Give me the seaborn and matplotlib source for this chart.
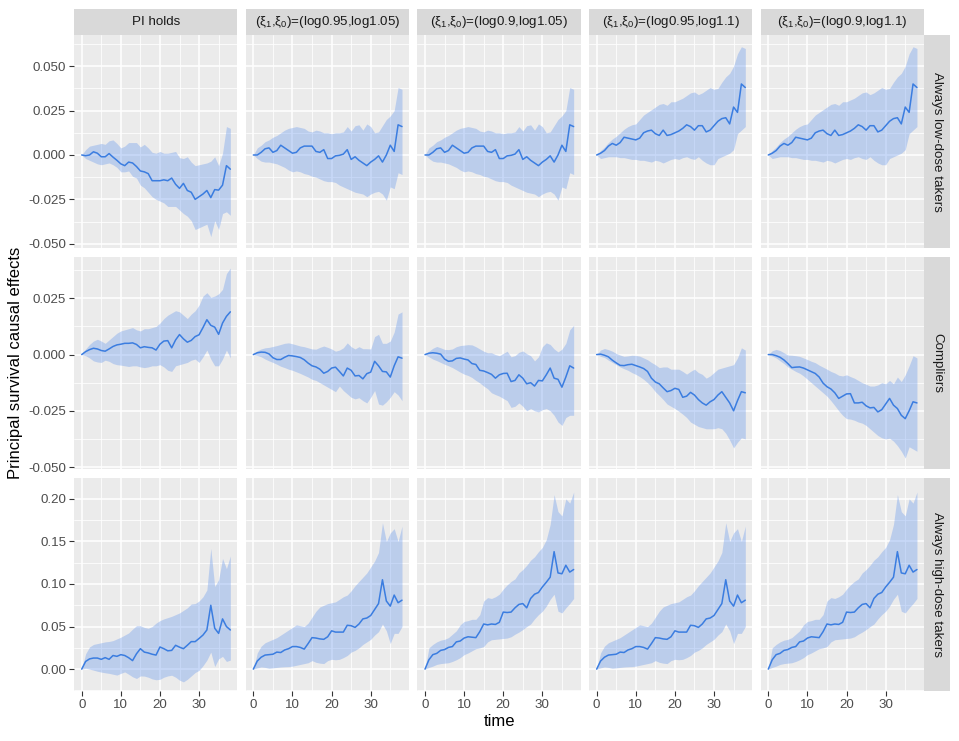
import pandas as pd
import matplotlib
matplotlib.use("Agg")
import matplotlib.pyplot as plt
import seaborn as sns
from matplotlib.ticker import MultipleLocator, FormatStrFormatter

# time grid (months)
time = list(range(39))

xi_pair = r"$(\mathrm{\xi}_{\mathrm{1}}{,}\mathrm{\xi}_{\mathrm{0}})$"
col_labels = ["PI holds",
              xi_pair + "=(log0.95,log1.05)",
              xi_pair + "=(log0.9,log1.05)",
              xi_pair + "=(log0.95,log1.1)",
              xi_pair + "=(log0.9,log1.1)"]
row_labels = ["Always low-dose takers", "Compliers", "Always high-dose takers"]

# ---- Always low-dose takers ----
low_pi_est = [0, -0.0004, 0, 0.0018, 0.001, -0.001, -0.001, 0.0008, -0.0012, -0.003, -0.005, -0.006, -0.004,
              -0.0045, -0.0065, -0.009, -0.0095, -0.0105, -0.0145, -0.0145, -0.0145, -0.014, -0.0145, -0.013,
              -0.0165, -0.0188, -0.016, -0.02, -0.021, -0.025, -0.0235, -0.022, -0.02, -0.024, -0.0195, -0.0198,
              -0.017, -0.006, -0.008]
low_pi_lo = [0, -0.002, -0.003, -0.004, -0.005, -0.0055, -0.005, -0.0045, -0.0055, -0.007, -0.0095, -0.0095, -0.009,
             -0.012, -0.013, -0.017, -0.0185, -0.021, -0.0235, -0.025, -0.026, -0.027, -0.029, -0.029, -0.029,
             -0.031, -0.033, -0.0345, -0.037, -0.042, -0.041, -0.04, -0.039, -0.046, -0.037, -0.042, -0.033,
             -0.032, -0.034]
low_pi_hi = [0, 0.003, 0.005, 0.0055, 0.006, 0.0065, 0.006, 0.008, 0.0085, 0.0065, 0.004, 0.005, 0.007, 0.007,
             0.007, 0.0045, 0.006, 0.004, 0.0015, 0.001, 0.002, 0.001, 0.001, 0.0015, 0.002, -0.0015, -0.002,
             -0.001, -0.004, -0.006, -0.0055, -0.005, -0.0045, -0.0035, -0.001, -0.006, 0.001, 0.016, 0.015]

low_s1_est = [0, 0, 0.0015, 0.0035, 0.004, 0.0015, 0.0025, 0.0055, 0.004, 0.0025, 0.001, 0.0015, 0.004, 0.005,
              0.005, 0.005, 0.002, 0.0015, 0.003, -0.002, -0.002, -0.0005, -0.0002, 0.0005, 0.003, -0.0025, -0.001,
              -0.003, -0.0045, -0.006, -0.004, -0.0025, -0.0005, -0.004, 0, 0.0055, 0.002, 0.017, 0.016]
low_s1_lo = [0, -0.002, -0.0035, -0.004, -0.004, -0.0045, -0.005, -0.006, -0.007, -0.0085, -0.0095, -0.009,
             -0.0095, -0.0105, -0.011, -0.012, -0.0125, -0.0135, -0.0145, -0.015, -0.015, -0.0155, -0.017, -0.018,
             -0.019, -0.02, -0.021, -0.0215, -0.022, -0.0235, -0.022, -0.021, -0.0205, -0.022, -0.0255, -0.018,
             -0.019, -0.01, -0.011]
low_s1_hi = [0, 0.004, 0.0055, 0.0075, 0.0085, 0.01, 0.011, 0.0125, 0.014, 0.015, 0.0155, 0.016, 0.0155, 0.015,
             0.0135, 0.013, 0.014, 0.0135, 0.0125, 0.0125, 0.012, 0.0125, 0.0125, 0.013, 0.016, 0.0135, 0.0165,
             0.017, 0.014, 0.0175, 0.016, 0.0125, 0.013, 0.0165, 0.02, 0.022, 0.025, 0.038, 0.037]

low_s2_est = [0, 0.001, 0.0025, 0.005, 0.0065, 0.0055, 0.007, 0.01, 0.0095, 0.009, 0.0085, 0.0095, 0.0125, 0.0135,
              0.014, 0.012, 0.011, 0.014, 0.011, 0.0115, 0.0125, 0.0135, 0.015, 0.017, 0.016, 0.014, 0.0165, 0.0165,
              0.013, 0.014, 0.0165, 0.019, 0.0205, 0.021, 0.0175, 0.027, 0.024, 0.04, 0.038]
low_s2_lo = [0, -0.002, -0.0015, -0.001, -0.001, -0.001, -0.0015, -0.0015, -0.002, -0.0025, -0.0025, -0.003, -0.003,
             -0.0035, -0.004, -0.003, -0.0035, -0.0045, -0.0035, -0.0025, -0.002, -0.0025, -0.0015, -0.001, -0.002,
             -0.0025, -0.001, -0.003, -0.0045, -0.0055, -0.0055, -0.002, -0.001, 0, 0.001, 0.003, 0.012, 0.014,
             0.016]
low_s2_hi = [0, 0.0025, 0.0045, 0.007, 0.009, 0.0105, 0.0125, 0.0145, 0.016, 0.017, 0.0175, 0.02, 0.0225, 0.024,
             0.0255, 0.027, 0.0285, 0.029, 0.028, 0.03, 0.03, 0.031, 0.032, 0.0335, 0.035, 0.0355, 0.034, 0.035,
             0.0365, 0.038, 0.037, 0.0375, 0.041, 0.044, 0.046, 0.05, 0.057, 0.061, 0.06]

# ---- Compliers ----
comp_pi_est = [0, 0.0013, 0.0022, 0.0028, 0.0025, 0.0018, 0.0015, 0.0025, 0.0036, 0.0043, 0.0046, 0.005, 0.005,
               0.0052, 0.0045, 0.003, 0.0035, 0.0032, 0.003, 0.002, 0.0046, 0.006, 0.0062, 0.003, 0.0065, 0.0089,
               0.007, 0.0055, 0.0063, 0.008, 0.0088, 0.012, 0.0155, 0.013, 0.0122, 0.009, 0.014, 0.017, 0.019]
comp_pi_lo = [0, -0.0005, -0.0015, -0.0028, -0.0033, -0.0035, -0.0025, -0.003, -0.004, -0.0045, -0.0047, -0.005,
              -0.0053, -0.005, -0.005, -0.0055, -0.0058, -0.0055, -0.005, -0.005, -0.0045, -0.0055, -0.007, -0.0075,
              -0.005, -0.0045, -0.004, -0.0035, -0.0025, -0.002, -0.0035, -0.001, 0.002, -0.002, -0.005, -0.005,
              -0.002, 0.002, -0.0015]
comp_pi_hi = [0, 0.0025, 0.0045, 0.006, 0.0068, 0.006, 0.005, 0.0065, 0.008, 0.0095, 0.0105, 0.011, 0.0115, 0.012,
              0.011, 0.0105, 0.0115, 0.0115, 0.012, 0.0125, 0.014, 0.016, 0.0175, 0.0185, 0.0195, 0.019, 0.0175,
              0.016, 0.018, 0.0195, 0.022, 0.026, 0.0275, 0.0255, 0.026, 0.027, 0.029, 0.036, 0.0385]

comp_s1_est = [0, 0.0008, 0.0011, 0.001, 0.0003, -0.0014, -0.0022, -0.0022, -0.0012, -0.0004, -0.0006, -0.0009,
               -0.0013, -0.0023, -0.0038, -0.005, -0.0055, -0.0065, -0.0083, -0.0075, -0.006, -0.0056, -0.0075,
               -0.0095, -0.006, -0.007, -0.0095, -0.0093, -0.0108, -0.0085, -0.0078, -0.003, -0.005, -0.0075,
               -0.0077, -0.01, -0.005, -0.001, -0.0016]
comp_s1_lo = [0, -0.0004, -0.001, -0.002, -0.0028, -0.0035, -0.0043, -0.0052, -0.0058, -0.0065, -0.007, -0.0077,
              -0.0084, -0.0092, -0.01, -0.011, -0.0115, -0.0125, -0.0135, -0.0145, -0.0155, -0.0165, -0.014, -0.016,
              -0.0175, -0.019, -0.0197, -0.0192, -0.0205, -0.0215, -0.019, -0.016, -0.022, -0.0225, -0.021, -0.019,
              -0.0165, -0.018, -0.0205]
comp_s1_hi = [0, 0.0017, 0.0025, 0.003, 0.0032, 0.0036, 0.004, 0.0045, 0.005, 0.0052, 0.0048, 0.0043, 0.0038,
              0.0035, 0.003, 0.0025, 0.0024, 0.0032, 0.0038, 0.0032, 0.0025, 0.0015, 0.002, 0.003, 0.0052, 0.0035,
              0.0025, 0.0035, 0.0026, 0.0026, 0.0025, 0.008, 0.009, 0.005, 0.005, 0.006, 0.01, 0.018, 0.019]

comp_s2_est = [0, 0.0006, 0.0008, 0.0006, 0.0002, -0.002, -0.003, -0.0028, -0.0017, -0.0015, -0.002, -0.0024, -0.004,
               -0.0044, -0.007, -0.0073, -0.008, -0.0088, -0.0105, -0.009, -0.0084, -0.0083, -0.012, -0.0115, -0.009,
               -0.0105, -0.013, -0.0125, -0.014, -0.0115, -0.0117, -0.009, -0.006, -0.0105, -0.011, -0.0145, -0.01,
               -0.005, -0.006]
comp_s2_lo = [0, -0.001, -0.002, -0.0027, -0.0035, -0.0043, -0.005, -0.0058, -0.0068, -0.0078, -0.0087, -0.0093,
              -0.0102, -0.0115, -0.0126, -0.014, -0.0152, -0.017, -0.0178, -0.0185, -0.0195, -0.0205, -0.0235,
              -0.023, -0.0215, -0.023, -0.025, -0.024, -0.025, -0.0255, -0.0245, -0.024, -0.025, -0.027, -0.03,
              -0.0315, -0.028, -0.027, -0.027]
comp_s2_hi = [0, 0.0015, 0.0028, 0.0036, 0.003, 0.0023, 0.0022, 0.0025, 0.0035, 0.004, 0.0042, 0.0044, 0.0043,
              0.0035, 0.0025, 0.0015, 0.0008, 0.0008, 0, -0.0005, 0.0005, 0.0015, -0.001, -0.0005, 0.001, 0.0016,
              0.0004, -0.0005, -0.0028, -0.001, 0.0035, 0.0052, 0.0045, 0.0025, 0.0012, 0.0024, 0.005, 0.011, 0.013]

comp_s3_est = [0, 0.0002, -0.0003, -0.001, -0.0025, -0.0037, -0.0048, -0.0049, -0.0045, -0.0043, -0.0049, -0.0055,
               -0.0062, -0.0075, -0.0105, -0.0122, -0.013, -0.0148, -0.0165, -0.016, -0.015, -0.0155, -0.019,
               -0.0185, -0.0168, -0.018, -0.02, -0.0215, -0.0225, -0.021, -0.02, -0.018, -0.0165, -0.019, -0.0215,
               -0.025, -0.0205, -0.0165, -0.017]
comp_s3_lo = [0, -0.0008, -0.0013, -0.0025, -0.0035, -0.0045, -0.0055, -0.0063, -0.007, -0.008, -0.0088, -0.0098,
              -0.011, -0.0125, -0.0143, -0.0165, -0.0182, -0.02, -0.022, -0.023, -0.024, -0.0252, -0.0265, -0.028,
              -0.03, -0.031, -0.032, -0.0325, -0.033, -0.033, -0.033, -0.0325, -0.033, -0.035, -0.038, -0.0415,
              -0.039, -0.037, -0.0375]
comp_s3_hi = [0, 0.002, 0.0027, 0.0022, 0.0015, 0.0005, -0.0002, -0.0008, -0.0006, -0.0003, -0.0004, -0.0007,
              -0.0015, -0.0023, -0.0035, -0.0045, -0.0058, -0.0055, -0.0055, -0.0065, -0.0065, -0.0065, -0.0075,
              -0.0087, -0.0075, -0.0065, -0.008, -0.0088, -0.0105, -0.0095, -0.008, -0.0065, -0.006, -0.0055, -0.005,
              -0.0045, -0.0015, 0.003, 0.002]

comp_s4_est = [0, 0, -0.0005, -0.0012, -0.0024, -0.004, -0.0058, -0.0056, -0.0055, -0.006, -0.0068, -0.0076,
               -0.0084, -0.01, -0.0127, -0.0143, -0.0153, -0.017, -0.0195, -0.0185, -0.0175, -0.0174, -0.0215,
               -0.0215, -0.0212, -0.0228, -0.0237, -0.0235, -0.0255, -0.0245, -0.022, -0.0195, -0.0225, -0.024,
               -0.027, -0.0285, -0.025, -0.021, -0.0215]
comp_s4_lo = [0, -0.0007, -0.0015, -0.0028, -0.004, -0.0055, -0.0065, -0.0075, -0.0083, -0.0095, -0.011, -0.0125,
              -0.014, -0.0155, -0.017, -0.0185, -0.0205, -0.0227, -0.025, -0.027, -0.0285, -0.0287, -0.0292, -0.03,
              -0.0305, -0.0315, -0.033, -0.0345, -0.036, -0.037, -0.0375, -0.0372, -0.0385, -0.0405, -0.043, -0.046,
              -0.041, -0.042, -0.043]
comp_s4_hi = [0, 0.0017, 0.0023, 0.0018, 0.0008, -0.0002, -0.0003, -0.0005, -0.0008, -0.0015, -0.0022, -0.003,
              -0.0036, -0.0047, -0.0056, -0.0065, -0.0075, -0.0082, -0.0092, -0.0095, -0.009, -0.0098, -0.0105,
              -0.0115, -0.0125, -0.0132, -0.014, -0.014, -0.0135, -0.0125, -0.013, -0.0115, -0.013, -0.01, -0.012,
              -0.009, -0.005, -0.0005, -0.0015]

# ---- Always high-dose takers ----
high_pi_est = [0, 0.009, 0.012, 0.013, 0.013, 0.0115, 0.0135, 0.0115, 0.016, 0.015, 0.017, 0.016, 0.0134, 0.01,
               0.018, 0.024, 0.02, 0.019, 0.0175, 0.0165, 0.026, 0.024, 0.0215, 0.022, 0.028, 0.0258, 0.024, 0.028,
               0.0323, 0.0323, 0.036, 0.04, 0.046, 0.075, 0.048, 0.042, 0.059, 0.05, 0.046]
high_pi_lo = [0, 0.001, 0, -0.0012, -0.0025, -0.0035, -0.0043, -0.005, -0.006, -0.007, -0.005, -0.0033, -0.006,
              -0.009, -0.011, -0.008, -0.0082, -0.0095, -0.0115, -0.0125, -0.012, -0.0095, -0.008, -0.0072, -0.0095,
              -0.013, -0.015, -0.012, -0.008, -0.004, -0.0015, 0.004, 0.0106, 0.02, 0.003, 0.012, 0.015, 0.009,
              0.0106]
high_pi_hi = [0, 0.018, 0.026, 0.029, 0.03, 0.031, 0.032, 0.0325, 0.0335, 0.0355, 0.0375, 0.04, 0.0425, 0.047,
              0.051, 0.051, 0.049, 0.048, 0.05, 0.054, 0.057, 0.059, 0.0605, 0.062, 0.064, 0.066, 0.069, 0.072,
              0.0765, 0.077, 0.08, 0.085, 0.093, 0.142, 0.097, 0.105, 0.13, 0.118, 0.133]

high_s1_est = [0, 0.0095, 0.014, 0.0165, 0.017, 0.0175, 0.02, 0.0195, 0.0225, 0.024, 0.0265, 0.0265, 0.0255, 0.0235,
               0.03, 0.037, 0.0365, 0.0355, 0.035, 0.038, 0.045, 0.0435, 0.0435, 0.0435, 0.0515, 0.051, 0.049, 0.053,
               0.059, 0.06, 0.063, 0.07, 0.077, 0.105, 0.08, 0.074, 0.087, 0.078, 0.081]
high_s1_lo = [0, 0.0015, 0.0025, 0.002, 0.001, 0.0015, 0.002, 0.0025, 0.0028, 0.003, 0.0035, 0.0045, 0.0055, 0.0065,
              0.0075, 0.01, 0.008, 0.007, 0.0065, 0.01, 0.0115, 0.011, 0.0115, 0.0135, 0.016, 0.02, 0.022, 0.025,
              0.029, 0.032, 0.035, 0.04, 0.044, 0.053, 0.045, 0.03, 0.042, 0.042, 0.05]
high_s1_hi = [0, 0.019, 0.027, 0.031, 0.033, 0.035, 0.037, 0.04, 0.043, 0.046, 0.049, 0.052, 0.051, 0.05, 0.054,
              0.061, 0.068, 0.073, 0.075, 0.077, 0.078, 0.079, 0.082, 0.085, 0.087, 0.092, 0.098, 0.103, 0.108,
              0.113, 0.12, 0.127, 0.137, 0.172, 0.15, 0.16, 0.165, 0.15, 0.168]

high_s2_est = [0, 0.011, 0.017, 0.0185, 0.022, 0.023, 0.0255, 0.0265, 0.032, 0.033, 0.0365, 0.038, 0.0375, 0.037,
               0.044, 0.053, 0.052, 0.053, 0.0525, 0.055, 0.067, 0.0665, 0.067, 0.072, 0.076, 0.077, 0.072, 0.083,
               0.088, 0.09, 0.0965, 0.102, 0.108, 0.138, 0.113, 0.112, 0.122, 0.114, 0.117]
high_s2_lo = [0, 0.002, 0.0035, 0.0055, 0.0065, 0.007, 0.0075, 0.009, 0.011, 0.0135, 0.017, 0.019, 0.0215, 0.024,
              0.025, 0.0265, 0.032, 0.0345, 0.035, 0.0355, 0.036, 0.0365, 0.038, 0.041, 0.0435, 0.0465, 0.05, 0.053,
              0.059, 0.064, 0.068, 0.074, 0.082, 0.088, 0.068, 0.066, 0.072, 0.077, 0.083]
high_s2_hi = [0, 0.025, 0.029, 0.032, 0.034, 0.035, 0.037, 0.041, 0.045, 0.052, 0.056, 0.057, 0.0585, 0.0585, 0.064,
              0.08, 0.084, 0.083, 0.085, 0.088, 0.094, 0.099, 0.103, 0.106, 0.113, 0.117, 0.122, 0.128, 0.132, 0.138,
              0.143, 0.152, 0.17, 0.205, 0.185, 0.18, 0.2, 0.195, 0.208]

# which series sits in which panel (rows x columns)
panel_map = {
    "Always low-dose takers": [(low_pi_est, low_pi_lo, low_pi_hi), (low_s1_est, low_s1_lo, low_s1_hi),
                               (low_s1_est, low_s1_lo, low_s1_hi), (low_s2_est, low_s2_lo, low_s2_hi),
                               (low_s2_est, low_s2_lo, low_s2_hi)],
    "Compliers": [(comp_pi_est, comp_pi_lo, comp_pi_hi), (comp_s1_est, comp_s1_lo, comp_s1_hi),
                  (comp_s2_est, comp_s2_lo, comp_s2_hi), (comp_s3_est, comp_s3_lo, comp_s3_hi),
                  (comp_s4_est, comp_s4_lo, comp_s4_hi)],
    "Always high-dose takers": [(high_pi_est, high_pi_lo, high_pi_hi), (high_s1_est, high_s1_lo, high_s1_hi),
                                (high_s2_est, high_s2_lo, high_s2_hi), (high_s1_est, high_s1_lo, high_s1_hi),
                                (high_s2_est, high_s2_lo, high_s2_hi)],
}

frames = []
for stratum in row_labels:
    for j, scen in enumerate(col_labels):
        est, lo, hi = panel_map[stratum][j]
        frames.append(pd.DataFrame({"stratum": stratum, "scenario": scen, "time": time,
                                    "est": est, "lo": lo, "hi": hi}))
df = pd.concat(frames, ignore_index=True)

sns.set_theme(style="darkgrid")
plt.rcParams["font.family"] = ["Liberation Sans", "DejaVu Sans"]
plt.rcParams["mathtext.fontset"] = "custom"
plt.rcParams["mathtext.rm"] = "Liberation Sans"
plt.rcParams["mathtext.it"] = "Liberation Sans"
plt.rcParams["axes.unicode_minus"] = False

W, H = 959, 741
fig, axes = plt.subplots(3, 5, figsize=(W / 100, H / 100), dpi=100, sharex=True, sharey="row")
fig.subplots_adjust(left=74 / W, right=924 / W, top=1 - 35 / H, bottom=1 - 691 / H,
                    wspace=0.0505, hspace=0.04)

line_col = "#3b7de0"
fill_col = "#6495ED"
ylims = [(-0.0524, 0.0676), (-0.0511, 0.0436), (-0.0257, 0.2245)]
ysteps = [(0.025, "%.3f"), (0.025, "%.3f"), (0.05, "%.2f")]

for i, stratum in enumerate(row_labels):
    for j, scen in enumerate(col_labels):
        ax = axes[i, j]
        d = df[(df["stratum"] == stratum) & (df["scenario"] == scen)]
        ax.set_facecolor("#EBEBEB")
        ax.fill_between(d["time"], d["lo"], d["hi"], color=fill_col, alpha=0.35, lw=0)
        sns.lineplot(data=d, x="time", y="est", ax=ax, color=line_col, lw=1.1)
        ax.set_xlabel("")
        ax.set_ylabel("")
        ax.set_xlim(-1.97, 39.8)
        ax.set_ylim(*ylims[i])
        ax.xaxis.set_major_locator(MultipleLocator(10))
        ax.xaxis.set_minor_locator(MultipleLocator(5))
        ax.yaxis.set_major_locator(MultipleLocator(ysteps[i][0]))
        ax.yaxis.set_minor_locator(MultipleLocator(ysteps[i][0] / 2))
        ax.yaxis.set_major_formatter(FormatStrFormatter(ysteps[i][1]))
        ax.grid(which="major", color="white", lw=1.1)
        ax.grid(which="minor", color="white", lw=0.55)
        ax.set_axisbelow(True)
        for sp in ax.spines.values():
            sp.set_visible(False)
        ax.tick_params(which="minor", length=0)
        ax.tick_params(axis="both", which="major", labelsize=9.6, labelcolor="#4D4D4D",
                       color="#333333", width=0.8, length=3.6, pad=2)
        ax.tick_params(axis="y", left=(j == 0), labelleft=(j == 0))
        ax.tick_params(axis="x", bottom=(i == 2), labelbottom=(i == 2))

# facet strips
strip_h = 26 / H
strip_w = 26 / W
for j, scen in enumerate(col_labels):
    pos = axes[0, j].get_position()
    sax = fig.add_axes([pos.x0, pos.y1, pos.width, strip_h])
    sax.set_facecolor("#D9D9D9")
    sax.set_xticks([])
    sax.set_yticks([])
    for sp in sax.spines.values():
        sp.set_visible(False)
    sax.text(0.5, 0.5, scen, ha="center", va="center", fontsize=9.6, color="#1A1A1A",
             transform=sax.transAxes)

for i, stratum in enumerate(row_labels):
    pos = axes[i, 4].get_position()
    sax = fig.add_axes([pos.x1, pos.y0, strip_w, pos.height])
    sax.set_facecolor("#D9D9D9")
    sax.set_xticks([])
    sax.set_yticks([])
    for sp in sax.spines.values():
        sp.set_visible(False)
    sax.text(0.5, 0.5, stratum, ha="center", va="center", rotation=-90, fontsize=9.6,
             color="#1A1A1A", transform=sax.transAxes)

fig.text(499 / W, 1 - 722 / H, "time", ha="center", va="center", fontsize=12, color="black")
fig.text(16 / W, 1 - 363 / H, "Principal survival causal effects", ha="center", va="center",
         rotation=90, fontsize=12, color="black")

fig.savefig("out.png", dpi=100)
